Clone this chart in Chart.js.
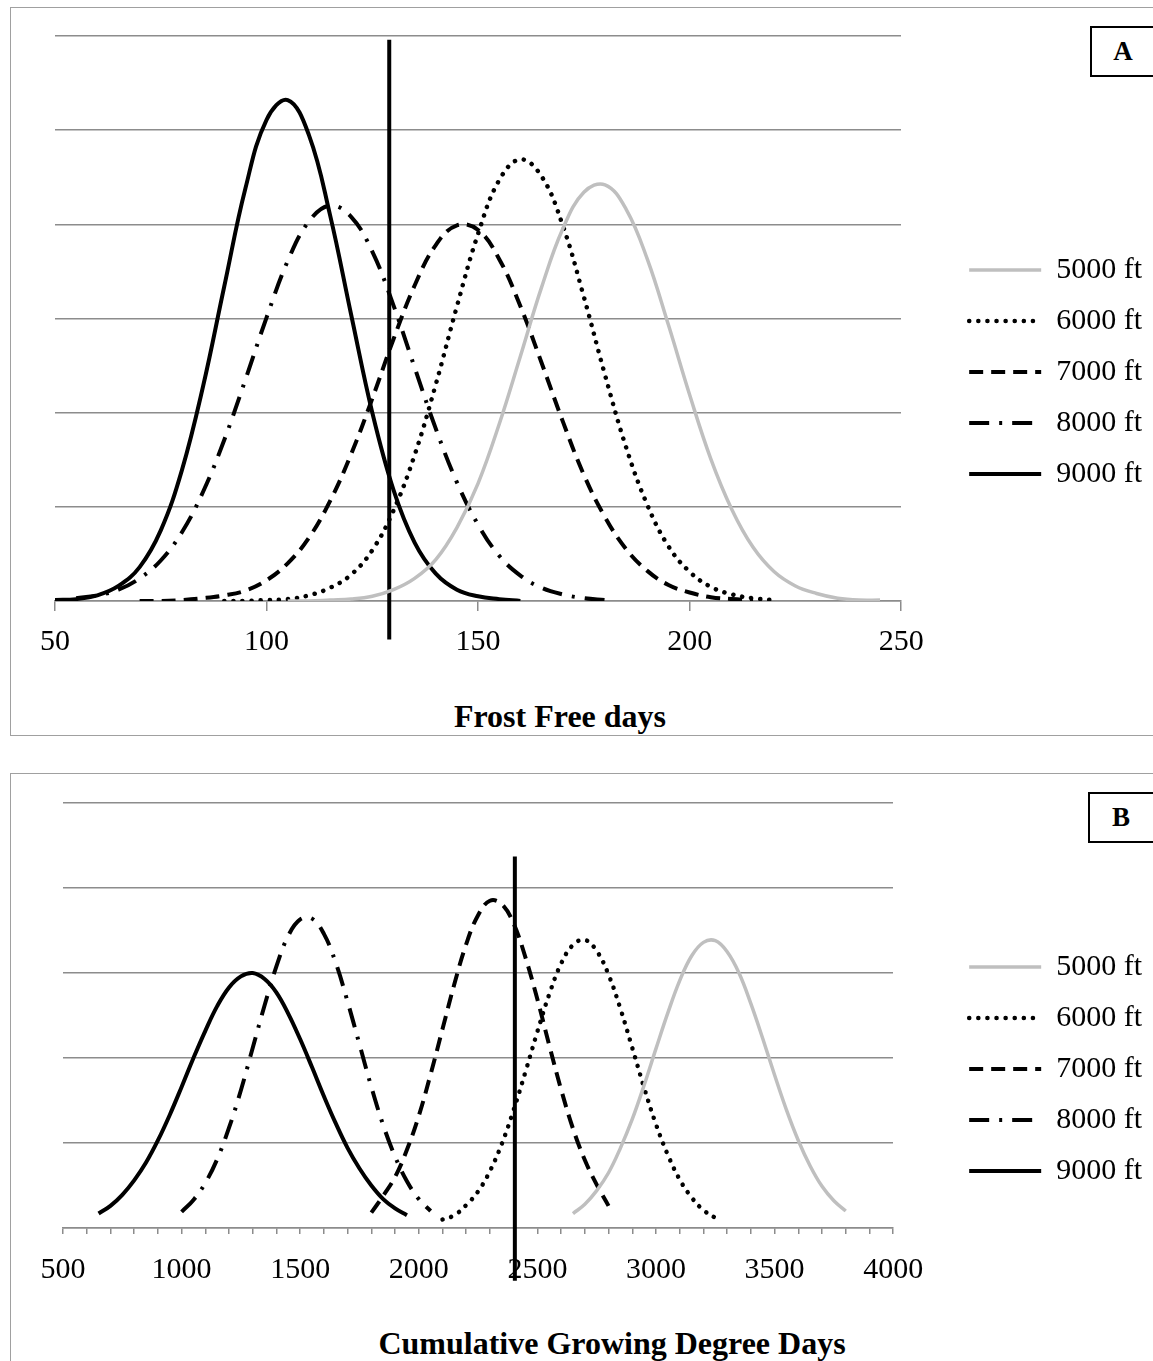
<!DOCTYPE html>
<html>
<head>
<meta charset="utf-8">
<script src="https://cdn.jsdelivr.net/npm/chart.js@4.4.1/dist/chart.umd.min.js"></script>
<style>
  html, body { margin: 0; padding: 0; background: #fff; overflow: hidden; }
  body { width: 1153px; height: 1361px; position: relative; font-family: 'Liberation Serif', 'Times New Roman', serif; }
  .panel { position: absolute; left: 10px; width: 1170px; border: 1.5px solid #a0a0a0; box-sizing: border-box; }
  .tag { position: absolute; width: 90px; border: 2px solid #000; box-sizing: border-box; display: flex; align-items: center; justify-content: center; font-weight: bold; font-size: 27px; padding-right: 24px; }
  .axis-title { position: absolute; font-weight: bold; font-size: 32px; line-height: 32px; white-space: nowrap; transform: translateX(-50%); }
  canvas { position: absolute; left: 0; }
</style>
</head>
<body>
<div class="panel" style="top:7px; height:729px;"></div>
<div class="panel" style="top:773px; height:620px;"></div>
<div class="tag" style="left:1090px; top:26px; height:51px;">A</div>
<div class="tag" style="left:1088px; top:792px; height:51px;">B</div>
<div class="axis-title" style="left:560px; top:700px;">Frost Free days</div>
<div class="axis-title" style="left:612px; top:1327px;">Cumulative Growing Degree Days</div>

<canvas id="chart-a" width="1180" height="740" style="top:0; width:1180px; height:740px;"></canvas>
<canvas id="chart-b" width="1180" height="601" style="top:760px; width:1180px; height:601px;"></canvas>

<script>
// Panel A: frost free days
const ffdDays = [50, 55, 60, 65, 70, 75, 80, 85, 90, 95, 100, 105, 110, 115, 120, 125, 130, 135, 140, 145,
                 150, 155, 160, 165, 170, 175, 180, 185, 190, 195, 200, 205, 210, 215, 220, 225, 230, 235, 240, 245];
const ffdTicks = [50, 100, 150, 200, 250];
const ffdCutoff = 129;

const ffd5000 = [0.00, 0.00, 0.01, 0.02, 0.05, 0.12, 0.24, 0.44, 0.78, 1.25, 1.88, 2.60, 3.33, 3.95, 4.34, 4.42, 4.16,
                 3.63, 2.93, 2.19, 1.51, 0.97, 0.57, 0.31, 0.16, 0.08, 0.03, 0.01, 0.01];  // from 105
const ffd6000 = [0.00, 0.00, 0.01, 0.02, 0.06, 0.14, 0.28, 0.54, 0.96, 1.55, 2.30, 3.13, 3.90, 4.47, 4.69, 4.51, 3.99,
                 3.23, 2.40, 1.63, 1.02, 0.58, 0.31, 0.15, 0.07, 0.03, 0.01];  // from 90
const ffd7000 = [0.00, 0.00, 0.01, 0.03, 0.06, 0.11, 0.22, 0.40, 0.67, 1.06, 1.56, 2.15, 2.78, 3.35, 3.78, 3.99, 3.94,
                 3.63, 3.13, 2.53, 1.91, 1.34, 0.89, 0.55, 0.32, 0.17, 0.09, 0.04, 0.02, 0.01];  // from 70
const ffd8000 = [0.03, 0.06, 0.12, 0.24, 0.43, 0.73, 1.16, 1.71, 2.35, 3.01, 3.61, 4.03, 4.20, 4.08, 3.71, 3.14, 2.48,
                 1.83, 1.26, 0.81, 0.48, 0.27, 0.14, 0.07, 0.03, 0.01];  // from 55
const ffd9000 = [0.01, 0.02, 0.06, 0.16, 0.36, 0.75, 1.39, 2.28, 3.34, 4.38, 5.11, 5.32, 4.95, 4.10, 3.04, 2.00, 1.18,
                 0.62, 0.29, 0.12, 0.05, 0.02, 0.00];  // from 50
const ffdStarts = [105, 90, 70, 55, 50];

// Panel B: cumulative growing degree days
const gddValues = [650, 700, 750, 800, 850, 900, 950, 1000, 1050, 1100, 1150, 1200, 1250, 1300, 1350, 1400,
                   1450, 1500, 1550, 1600, 1650, 1700, 1750, 1800, 1850, 1900, 1950, 2000, 2050, 2100, 2150, 2200,
                   2250, 2300, 2350, 2400, 2450, 2500, 2550, 2600, 2650, 2700, 2750, 2800, 2850, 2900, 2950, 3000,
                   3050, 3100, 3150, 3200, 3250, 3300, 3350, 3400, 3450, 3500, 3550, 3600, 3650, 3700, 3750, 3800];
const gddTicks = [500, 1000, 1500, 2000, 2500, 3000, 3500, 4000];
const gddCutoff = 2405;

const gdd5000 = [0.17, 0.28, 0.44, 0.65, 0.94, 1.28, 1.68, 2.11, 2.53, 2.91, 3.20, 3.36, 3.38, 3.25, 3.00, 2.64,
                 2.23, 1.80, 1.39, 1.03, 0.73, 0.49, 0.32, 0.20];  // from 2650
const gdd6000 = [0.10, 0.15, 0.27, 0.43, 0.67, 0.99, 1.39, 1.84, 2.31, 2.75, 3.11, 3.33, 3.39, 3.26, 2.98, 2.58,
                 2.12, 1.65, 1.22, 0.86, 0.57, 0.36, 0.21, 0.12];  // from 2100
const gdd7000 = [0.18, 0.38, 0.60, 0.92, 1.32, 1.81, 2.34, 2.87, 3.34, 3.68, 3.85, 3.81, 3.58, 3.18, 2.69, 2.15,
                 1.63, 1.17, 0.80, 0.51, 0.26];  // from 1800
const gdd8000 = [0.19, 0.33, 0.53, 0.81, 1.18, 1.62, 2.12, 2.62, 3.08, 3.44, 3.63, 3.64, 3.46, 3.12, 2.66, 2.16,
                 1.66, 1.21, 0.84, 0.55, 0.34, 0.20];  // from 1000
const gdd9000 = [0.17, 0.26, 0.39, 0.56, 0.77, 1.03, 1.33, 1.66, 2.00, 2.32, 2.61, 2.83, 2.96, 3.00, 2.93, 2.77,
                 2.52, 2.22, 1.89, 1.55, 1.23, 0.94, 0.70, 0.50, 0.34, 0.23, 0.15];  // from 650
const gddStarts = [2650, 2100, 1800, 1000, 650];

const elevations = ['5000 ft', '6000 ft', '7000 ft', '8000 ft', '9000 ft'];

Chart.defaults.font.family = "'Liberation Serif', 'Times New Roman', serif";
Chart.defaults.color = '#000';

const GRID = '#8c8c8c';
const lineStyles = [
    { color: '#bfbfbf', dash: [], cap: 'butt', width: 3.5 },
    { color: '#000', dash: [0.1, 9], cap: 'round', width: 4.5 },
    { color: '#000', dash: [14, 8], cap: 'butt', width: 4 },
    { color: '#000', dash: [20, 10, 3, 10], cap: 'butt', width: 4 },
    { color: '#000', dash: [], cap: 'butt', width: 4 }
];

// put a curve on the shared x grid, nulls where it is not drawn
function alignTo(labels, start, values) {
    const row = labels.map(() => null);
    const at = labels.indexOf(start);
    values.forEach((v, i) => { row[at + i] = v; });
    return row;
}

// legend entries that keep each dataset's dash pattern
function legendItems(chart) {
    return chart.data.datasets
        .map((ds, i) => ({
            text: ds.label,
            fillStyle: ds.borderColor,
            strokeStyle: ds.borderColor,
            lineWidth: ds.borderWidth,
            lineDash: ds.borderDash || [],
            lineCap: ds.borderCapStyle || 'butt',
            pointStyle: 'line',
            fontColor: '#000',
            hidden: false,
            datasetIndex: i
        }))
        .filter(item => item.text !== '');
}

function buildChart(id, cfg) {
    const datasets = cfg.series.map((values, i) => ({
        label: elevations[i],
        data: alignTo(cfg.labels, cfg.starts[i], values),
        borderColor: lineStyles[i].color,
        backgroundColor: lineStyles[i].color,
        borderDash: lineStyles[i].dash,
        borderCapStyle: lineStyles[i].cap,
        borderWidth: lineStyles[i].width,
        pointRadius: 0,
        tension: 0.4
    }));

    // vertical reference line
    datasets.push({
        label: '',
        data: [{ x: cfg.cutoff, y: cfg.cutoffSpan[0] }, { x: cfg.cutoff, y: cfg.cutoffSpan[1] }],
        borderColor: '#000',
        borderWidth: 4,
        pointRadius: 0,
        clip: false
    });

    return new Chart(document.getElementById(id), {
        type: 'line',
        data: { labels: cfg.labels, datasets: datasets },
        options: {
            responsive: false,
            animation: false,
            layout: { padding: cfg.padding },
            plugins: {
                tooltip: { enabled: false },
                legend: {
                    position: 'right',
                    labels: {
                        usePointStyle: true,
                        pointStyle: 'line',
                        pointStyleWidth: 72,
                        padding: 21,
                        color: '#000',
                        font: { size: 30 },
                        generateLabels: legendItems
                    }
                }
            },
            scales: {
                // unlabelled value axis; sitting on the right it also leaves the gap before the legend
                y: {
                    position: 'right',
                    min: 0,
                    max: cfg.yMax,
                    ticks: { stepSize: 1, display: false },
                    grid: { color: GRID, lineWidth: 1.5, drawTicks: false },
                    border: { display: false },
                    afterFit: s => { s.width = cfg.gap; }
                },
                x: {
                    type: 'linear',
                    min: cfg.tickValues[0],
                    max: cfg.tickValues[cfg.tickValues.length - 1],
                    ticks: {
                        stepSize: cfg.step,
                        autoSkip: false,
                        maxRotation: 0,
                        padding: cfg.tickPad,
                        font: { size: 30 },
                        color: '#000',
                        callback: v => cfg.tickValues.includes(v) ? String(v) : ''
                    },
                    grid: { drawOnChartArea: false, tickLength: cfg.tickLength, color: GRID, lineWidth: 1.5 },
                    border: { color: GRID, width: 1.5 },
                    afterFit: s => { s.height = 107; }
                }
            }
        }
    });
}

buildChart('chart-a', {
    labels: ffdDays,
    series: [ffd5000, ffd6000, ffd7000, ffd8000, ffd9000],
    starts: ffdStarts,
    tickValues: ffdTicks,
    step: 50,
    tickLength: 10,
    tickPad: 13,
    yMax: 6,
    cutoff: ffdCutoff,
    cutoffSpan: [-0.41, 5.96],
    gap: 47,
    padding: { left: 55, right: 28, top: 36, bottom: 32 }
});

buildChart('chart-b', {
    labels: gddValues,
    series: [gdd5000, gdd6000, gdd7000, gdd8000, gdd9000],
    starts: gddStarts,
    tickValues: gddTicks,
    step: 100,
    tickLength: 6,
    tickPad: 18,
    yMax: 5,
    cutoff: gddCutoff,
    cutoffSpan: [-0.62, 4.37],
    gap: 55,
    padding: { left: 63, right: 28, top: 43, bottom: 26 }
});
</script>
</body>
</html>
